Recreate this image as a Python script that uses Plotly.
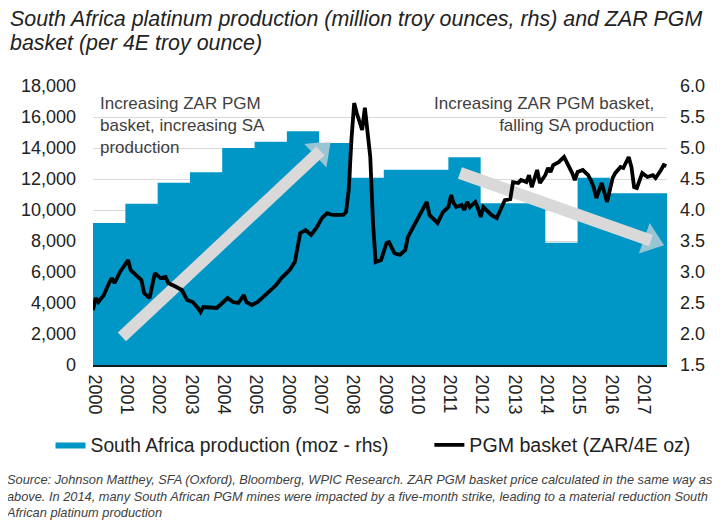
import plotly.graph_objects as go

# ---- Data ----
prod_years = [2000, 2001, 2002, 2003, 2004, 2005, 2006, 2007, 2008,
              2009, 2010, 2011, 2012, 2013, 2014, 2015, 2016, 2017]
prod_moz = [3.79, 4.10, 4.44, 4.61, 5.00, 5.10, 5.27, 5.08, 4.52,
            4.65, 4.65, 4.85, 4.11, 4.11, 3.47, 4.52, 4.27, 4.27]
data_end = "2017-10-08"

basket_months = [
    "2000-01", "2000-02", "2000-03", "2000-05", "2000-07", "2000-08", "2000-09", "2000-11",
    "2001-02", "2001-03", "2001-05", "2001-07", "2001-08", "2001-10", "2001-12",
    "2002-02", "2002-04", "2002-05", "2002-08", "2002-10", "2002-12",
    "2003-02", "2003-04", "2003-05", "2003-06", "2003-09", "2003-11",
    "2004-01", "2004-03", "2004-05", "2004-07", "2004-09", "2004-10", "2004-12",
    "2005-02", "2005-05", "2005-07", "2005-09", "2005-11",
    "2006-02", "2006-04", "2006-05", "2006-06", "2006-08", "2006-10", "2006-12",
    "2007-02", "2007-04", "2007-06", "2007-08", "2007-10", "2007-11", "2007-12",
    "2008-01", "2008-02", "2008-03", "2008-05", "2008-06", "2008-08", "2008-09", "2008-10", "2008-12",
    "2009-02", "2009-03", "2009-05", "2009-07", "2009-09", "2009-10", "2009-12",
    "2010-02", "2010-04", "2010-05", "2010-06", "2010-08", "2010-09", "2010-11",
    "2011-01", "2011-02", "2011-03", "2011-04", "2011-06", "2011-07", "2011-08", "2011-09", "2011-11", "2011-12",
    "2012-01", "2012-02", "2012-03", "2012-05", "2012-07", "2012-09", "2012-10", "2012-12",
    "2013-01", "2013-03", "2013-04", "2013-06", "2013-07", "2013-08", "2013-10", "2013-11",
    "2014-01", "2014-02", "2014-03", "2014-04", "2014-06", "2014-08", "2014-09", "2014-11", "2014-12",
    "2015-01", "2015-03", "2015-05", "2015-06", "2015-07", "2015-08", "2015-10", "2015-11", "2015-12",
    "2016-02", "2016-03", "2016-05", "2016-06", "2016-08", "2016-09", "2016-10", "2016-11",
    "2017-01", "2017-03", "2017-05", "2017-06", "2017-08", "2017-09", "2017-10",
]
basket_zar = [
    3550, 4320, 4060, 4500, 5290, 5610, 5290, 6000,
    6770, 6130, 5800, 5480, 4640, 4320, 5930,
    5610, 5680, 5290, 5030, 4840, 4190,
    4060, 3680, 3420, 3740, 3680, 3680,
    4000, 4320, 4060, 4000, 4510, 4060, 3870,
    4060, 4510, 4840, 5160, 5610,
    6130, 6640, 7610, 8510, 8710, 8390, 8840,
    9480, 9800, 9680, 9680, 9680, 9870, 11290,
    14520, 16900, 16260, 15160, 16600, 13420, 9160, 6640, 6770,
    7870, 7930, 7220, 7100, 7420, 8260, 8900,
    9550, 10130, 10520, 9680, 9350, 9160, 9870,
    10190, 10970, 10450, 10190, 10320, 10000, 10520, 10190, 10520, 10130,
    9550, 10190, 10000, 9680, 9480, 10190, 10640, 10700,
    11800, 11740, 11930, 11800, 12250, 11480, 12580, 11740,
    12250, 12710, 12450, 12900, 13090, 13420, 13090, 12380, 11930,
    12450, 12580, 12250, 11900, 11480, 10770, 11740, 11090, 10520,
    12060, 12380, 12770, 12710, 13420, 12770, 11480, 11420,
    12380, 12130, 12250, 12060, 12580, 12900, 12840,
]

left_ticks = [0, 2000, 4000, 6000, 8000, 10000, 12000, 14000, 16000, 18000]
right_ticks = [1.5, 2.0, 2.5, 3.0, 3.5, 4.0, 4.5, 5.0, 5.5, 6.0]
year_labels = [str(y) for y in range(2000, 2018)]

title_lines = ["South Africa platinum production (million troy ounces, rhs) and ZAR PGM",
               "basket (per 4E troy ounce)"]

# decorative trend arrows (start, head) in chart coordinates
arrow_up = (["2000-11-23", "2007-01-16"], [1.952, 4.953])
arrow_down = (["2011-05-12", "2017-04-09"], [4.597, 3.505])

BLUE = "#0096C6"
ARROW = "#D9D9D9"
TXT = "#222222"
FONT = "Liberation Sans, Arial, sans-serif"

step_x = [f"{y}-01-01" for y in prod_years] + [data_end]
step_y = prod_moz + [prod_moz[-1]]

fig = go.Figure()
fig.add_trace(go.Scatter(
    x=step_x, y=step_y, yaxis="y", mode="lines", line=dict(shape="hv", width=0, color=BLUE),
    fill="tozeroy", fillcolor=BLUE, name="South Africa production (moz - rhs)",
    legend="legend", hoverinfo="skip"))
for ax_x, ax_y in (arrow_up, arrow_down):
    fig.add_trace(go.Scatter(
        x=ax_x, y=ax_y, yaxis="y", mode="lines+markers",
        line=dict(color=ARROW, width=12),
        marker=dict(symbol="triangle-up", size=[0, 28], color=ARROW,
                    angleref="previous", line=dict(width=0)),
        showlegend=False, hoverinfo="skip"))
fig.add_trace(go.Scatter(
    x=basket_months, y=basket_zar, yaxis="y2", mode="lines",
    line=dict(color="#000000", width=3.8), name="PGM basket (ZAR/4E oz)",
    legend="legend2"))

fig.update_layout(
    width=720, height=528,
    margin=dict(l=85, r=61, t=78, b=171, autoexpand=False),
    paper_bgcolor="white", plot_bgcolor="white",
    font=dict(family=FONT, size=18, color=TXT),
    showlegend=True,
    xaxis=dict(type="date", range=["2000-01-01", data_end],
               tickvals=[f"{y}-01-20" for y in range(2000, 2018)], ticktext=year_labels,
               tickangle=90, showgrid=False, zeroline=False, ticks="",
               showline=True, linecolor="#1a1a1a", linewidth=2,
               tickfont=dict(size=18, color=TXT), ticklabelstandoff=4),
    yaxis=dict(side="right", range=[1.5, 6.0], tickvals=right_ticks,
               ticktext=[f"{v:.1f}" for v in right_ticks],
               showgrid=True, gridcolor="#d9d9d9", gridwidth=1.3, zeroline=False,
               ticks="", ticklabelstandoff=12, tickfont=dict(size=18, color=TXT)),
    yaxis2=dict(side="left", overlaying="y", range=[0, 18000], tickvals=left_ticks,
                ticktext=[f"{v:,}" for v in left_ticks], showgrid=False, zeroline=False,
                ticks="", ticklabelstandoff=16, tickfont=dict(size=18, color=TXT)),
    legend=dict(orientation="h", x=-0.074, xanchor="left", y=-0.287, yanchor="middle",
                font=dict(size=19.3, color=TXT), itemwidth=30, bgcolor="rgba(0,0,0,0)"),
    legend2=dict(orientation="h", x=0.586, xanchor="left", y=-0.287, yanchor="middle",
                 font=dict(size=19.6, color=TXT), itemwidth=30, bgcolor="rgba(0,0,0,0)"),
)

annotations = [
    dict(xref="paper", yref="paper", x=-0.148, y=1.2401, xanchor="left", yanchor="middle",
         align="left", showarrow=False, text=title_lines[0],
         font=dict(family=FONT, size=21.4, color=TXT, style="italic")),
    dict(xref="paper", yref="paper", x=-0.148, y=1.1541, xanchor="left", yanchor="middle",
         align="left", showarrow=False, text=title_lines[1],
         font=dict(family=FONT, size=21.4, color=TXT, style="italic")),
    dict(xref="paper", yref="paper", x=0.0087, y=0.978, xanchor="left", yanchor="top",
         align="left", showarrow=False,
         text="Increasing ZAR PGM<br>basket, increasing SA<br>production",
         font=dict(size=17, color="#404040")),
    dict(xref="paper", yref="paper", x=0.981, y=0.978, xanchor="right", yanchor="top",
         align="right", showarrow=False,
         text="Increasing ZAR PGM basket,<br>falling SA production",
         font=dict(size=17, color="#404040")),
    dict(xref="paper", yref="paper", x=-0.155, y=-0.378, xanchor="left", yanchor="top",
         align="left", showarrow=False,
         text=("Source: Johnson Matthey, SFA (Oxford), Bloomberg, WPIC Research. ZAR PGM basket price calculated in the same way as<br>"
               "above. In 2014, many South African PGM mines were impacted by a five-month strike, leading to a material reduction South<br>"
               "African platinum production"),
         font=dict(size=12.8, color="#404040", style="italic")),
]
fig.update_layout(annotations=annotations)

fig.write_html("out.html")
